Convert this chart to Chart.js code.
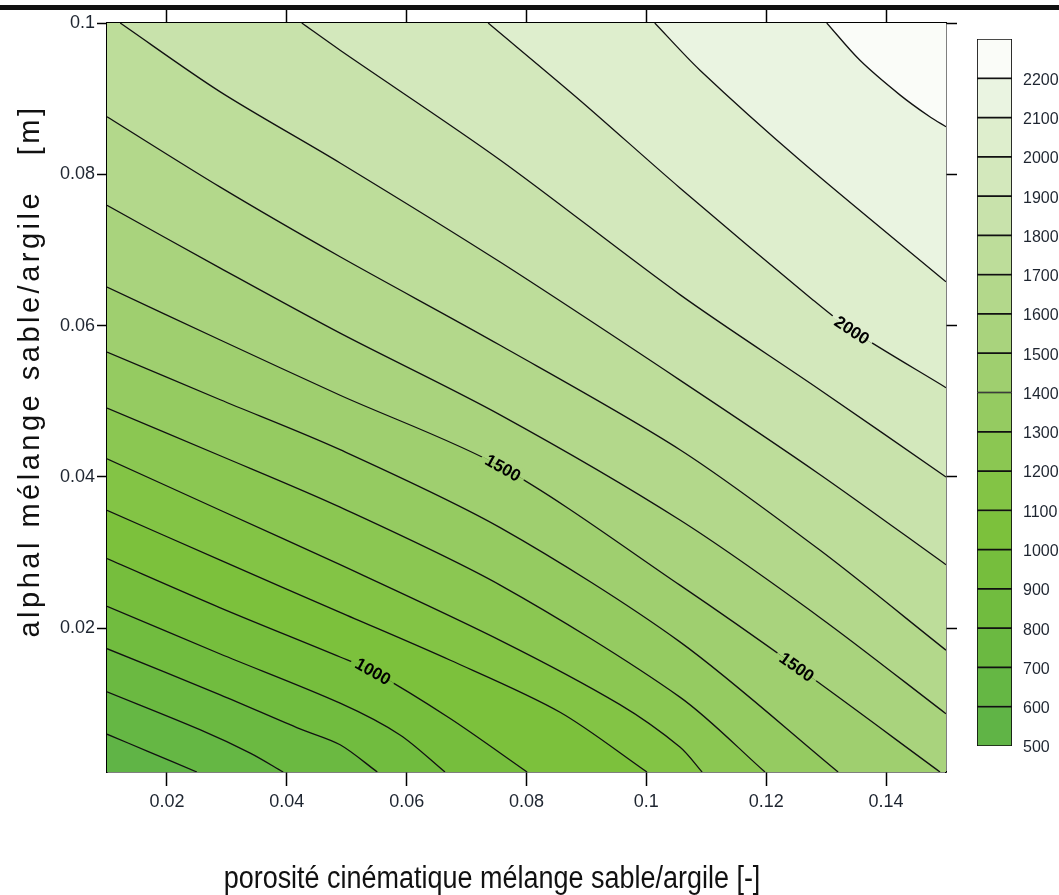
<!DOCTYPE html>
<html>
<head>
<meta charset="utf-8">
<title>Contour alpha / porosité</title>
<script src="https://cdn.jsdelivr.net/npm/chart.js@4.4.1/dist/chart.umd.min.js"></script>
<style>
  html, body { margin: 0; padding: 0; background: #fff; }
  #wrap { position: relative; width: 1059px; height: 895px; overflow: hidden; }
  #contourChart { position: absolute; left: 0; top: 0; }
  #colorbarChart { position: absolute; left: 960px; top: 0; }
</style>
</head>
<body>
<div id="wrap">
  <canvas id="contourChart" width="1059" height="895"></canvas>
  <canvas id="colorbarChart" width="99" height="895"></canvas>
</div>
<script>
// contour levels (band edges) and band colours, low -> high
const levels = [500, 600, 700, 800, 900, 1000, 1100, 1200, 1300, 1400, 1500, 1600, 1700, 1800, 1900, 2000, 2100, 2200, 2300];
const bandColors = [
    '#60b446', '#65b744', '#6bb941', '#71bc3f', '#76be3d', '#7cc13c',
    '#83c445', '#8bc752', '#95cb61', '#9fcf6f', '#a9d37d', '#b3d88b',
    '#bddd9a', '#c8e2ab', '#d3e8bc', '#deeecd', '#eaf4e1', '#fafcf8'
];

const xRange = [0.01, 0.15];
const yRange = [0.001, 0.1];
const xTicks = [0.02, 0.04, 0.06, 0.08, 0.1, 0.12, 0.14];
const xTickLabels = ['0.02', '0.04', '0.06', '0.08', '0.1', '0.12', '0.14'];
const yTicks = [0.02, 0.04, 0.06, 0.08, 0.1];
const yTickLabels = ['0.02', '0.04', '0.06', '0.08', '0.1'];

// iso-lines: [porosité, alpha]
const c600 = [[0.0100, 0.0060], [0.0172, 0.0036], [0.0250, 0.0010]];
const c700 = [[0.0100, 0.0116], [0.0255, 0.0066], [0.0339, 0.0035], [0.0394, 0.0010]];
const c800 = [[0.0100, 0.0173], [0.0289, 0.0112], [0.0422, 0.0067], [0.0489, 0.0046], [0.0551, 0.0010]];
const c900 = [[0.0100, 0.0229], [0.0289, 0.0166], [0.0489, 0.0101], [0.0589, 0.0059], [0.0664, 0.0010]];
const c1000 = [[0.0100, 0.0292], [0.0289, 0.0227], [0.0489, 0.0162], [0.0544, 0.0143], [0.0672, 0.0081], [0.0801, 0.0010]];
const c1100 = [[0.0100, 0.0356], [0.0289, 0.0290], [0.0489, 0.0221], [0.0672, 0.0158], [0.0856, 0.0089], [0.1001, 0.0010]];
const c1200 = [[0.0100, 0.0424], [0.0289, 0.0356], [0.0489, 0.0284], [0.0756, 0.0184], [0.0956, 0.0099], [0.1056, 0.0043], [0.1093, 0.0010]];
const c1300 = [[0.0100, 0.0491], [0.0289, 0.0428], [0.0489, 0.0360], [0.0756, 0.0257], [0.1056, 0.0109], [0.1198, 0.0010]];
const c1400 = [[0.0100, 0.0565], [0.0289, 0.0502], [0.0489, 0.0436], [0.0756, 0.0333], [0.1056, 0.0182], [0.1320, 0.0010]];
const c1500 = [[0.0100, 0.0651], [0.0289, 0.0581], [0.0489, 0.0508], [0.0761, 0.0412], [0.1056, 0.0257], [0.1251, 0.0149], [0.1490, 0.0010]];
const c1600 = [[0.0100, 0.0759], [0.0289, 0.0676], [0.0489, 0.0590], [0.0756, 0.0482], [0.1056, 0.0343], [0.1290, 0.0214], [0.1500, 0.0087]];
const c1700 = [[0.0100, 0.0876], [0.0289, 0.0783], [0.0489, 0.0691], [0.0756, 0.0574], [0.1056, 0.0436], [0.1290, 0.0303], [0.1500, 0.0171]];
const c1800 = [[0.0122, 0.1000], [0.0289, 0.0909], [0.0489, 0.0815], [0.0756, 0.0684], [0.1056, 0.0528], [0.1290, 0.0403], [0.1500, 0.0284]];
const c1900 = [[0.0425, 0.1000], [0.0489, 0.0964], [0.0756, 0.0819], [0.1056, 0.0641], [0.1290, 0.0515], [0.1500, 0.0400]];
const c2000 = [[0.0736, 0.1000], [0.0889, 0.0898], [0.1056, 0.0782], [0.1278, 0.0634], [0.1343, 0.0594], [0.1500, 0.0518]];
const c2100 = [[0.1014, 0.1000], [0.1089, 0.0938], [0.1256, 0.0819], [0.1500, 0.0658]];
const c2200 = [[0.1301, 0.1000], [0.1356, 0.0951], [0.1423, 0.0905], [0.1473, 0.0876], [0.1500, 0.0863]];

const contourLines = [
    {level: 600, pts: c600}, {level: 700, pts: c700}, {level: 800, pts: c800},
    {level: 900, pts: c900}, {level: 1000, pts: c1000}, {level: 1100, pts: c1100},
    {level: 1200, pts: c1200}, {level: 1300, pts: c1300}, {level: 1400, pts: c1400},
    {level: 1500, pts: c1500}, {level: 1600, pts: c1600}, {level: 1700, pts: c1700},
    {level: 1800, pts: c1800}, {level: 1900, pts: c1900}, {level: 2000, pts: c2000},
    {level: 2100, pts: c2100}, {level: 2200, pts: c2200}
];

// inline labels on the iso-lines (level, porosité where the label sits)
const contourLabels = [
    {level: 1000, x: 0.0544},
    {level: 1500, x: 0.0761},
    {level: 1500, x: 0.1251},
    {level: 2000, x: 0.1343}
];

const sansFont = "'Liberation Sans', Arial, sans-serif";
const tickColor = '#1e2530';
const lineTension = 0.3;

// region where value >= level: iso-line closed along the upper-right border.
// end points and corners are doubled so the spline keeps sharp corners
// and follows exactly the same curve as the iso-line itself
function regionAbove(pts) {
    const poly = [];
    const first = pts[0];
    const last = pts[pts.length - 1];
    poly.push({x: first[0], y: first[1]});
    pts.forEach(p => poly.push({x: p[0], y: p[1]}));
    poly.push({x: last[0], y: last[1]});
    const corners = [];
    if (last[1] <= yRange[0]) corners.push([xRange[1], yRange[0]]);
    corners.push([xRange[1], yRange[1]]);
    if (first[0] <= xRange[0]) corners.push([xRange[0], yRange[1]]);
    corners.forEach(c => {
        poly.push({x: c[0], y: c[1]});
        poly.push({x: c[0], y: c[1]});
    });
    return poly;
}

let datasets = [];
contourLines.forEach((c, k) => {
    datasets.push({
        data: regionAbove(c.pts),
        backgroundColor: bandColors[levels.indexOf(c.level)],
        borderColor: 'rgba(0,0,0,0)',
        borderWidth: 0,
        fill: 'shape',
        pointRadius: 0,
        tension: lineTension,
        order: 100 - k,
        xAxisID: 'x',
        yAxisID: 'y'
    });
});
contourLines.forEach(c => {
    datasets.push({
        data: c.pts.map(p => ({x: p[0], y: p[1]})),
        borderColor: '#111',
        borderWidth: 1.3,
        fill: false,
        pointRadius: 0,
        tension: lineTension,
        order: 0,
        xAxisID: 'x',
        yAxisID: 'y'
    });
});

const backgroundPlugin = {
    id: 'lowestBand',
    beforeDatasetsDraw(chart) {
        const a = chart.chartArea;
        const ctx = chart.ctx;
        ctx.save();
        ctx.fillStyle = bandColors[0];
        ctx.fillRect(a.left, a.top, a.right - a.left, a.bottom - a.top);
        ctx.restore();
    }
};

const labelPlugin = {
    id: 'contourLabels',
    afterDatasetsDraw(chart) {
        const ctx = chart.ctx;
        const sx = chart.scales.x;
        const sy = chart.scales.y;
        contourLabels.forEach(lab => {
            const line = contourLines.find(c => c.level === lab.level).pts;
            let k = 0;
            while (k < line.length - 2 && line[k + 1][0] < lab.x) k++;
            const p0 = line[k];
            const p1 = line[k + 1];
            const t = (lab.x - p0[0]) / (p1[0] - p0[0]);
            const yv = p0[1] + t * (p1[1] - p0[1]);
            const px = sx.getPixelForValue(lab.x);
            const py = sy.getPixelForValue(yv);
            // direction from the neighbouring points of the line
            const a = line[Math.max(k, 0)];
            const b = line[Math.min(k + 2, line.length - 1)];
            const ang = Math.atan2(sy.getPixelForValue(b[1]) - sy.getPixelForValue(a[1]),
                sx.getPixelForValue(b[0]) - sx.getPixelForValue(a[0]));
            const i = levels.indexOf(lab.level);
            ctx.save();
            ctx.translate(px, py);
            ctx.rotate(ang);
            ctx.font = "bold 17px " + sansFont;
            const txt = String(lab.level);
            const w = ctx.measureText(txt).width + 10;
            ctx.fillStyle = bandColors[i];
            ctx.fillRect(-w / 2, -9, w, 9);
            ctx.fillStyle = bandColors[i - 1];
            ctx.fillRect(-w / 2, 0, w, 9);
            ctx.fillStyle = '#000';
            ctx.textAlign = 'center';
            ctx.textBaseline = 'middle';
            ctx.fillText(txt, 0, 1);
            ctx.restore();
        });
    }
};

const titlesPlugin = {
    id: 'axisTitles',
    afterDraw(chart) {
        const ctx = chart.ctx;
        ctx.save();
        // page rule above the figure
        ctx.fillStyle = '#111';
        ctx.fillRect(0, 5, chart.width, 5);
        ctx.textAlign = 'center';
        ctx.textBaseline = 'middle';
        // narrow lettering of the original, squeezed horizontally
        ctx.save();
        ctx.translate(492, 879);
        ctx.scale(0.87, 1);
        ctx.font = "31px " + sansFont;
        ctx.fillText('porosité cinématique mélange sable/argile [-]', 0, 0);
        ctx.restore();
        ctx.translate(31, 371);
        ctx.rotate(-Math.PI / 2);
        ctx.font = "29px " + sansFont;
        ctx.letterSpacing = '3.5px';
        ctx.fillText('alphal mélange sable/argile   [m]', 0, 0);
        ctx.restore();
    }
};

function setTicks(values) {
    return function (scale) {
        scale.ticks = values.map(v => ({value: v}));
    };
}

const axisBorder = {display: true, color: '#000', width: 1.5};

new Chart(document.getElementById('contourChart'), {
    type: 'line',
    data: {datasets: datasets},
    options: {
        responsive: false,
        animation: false,
        events: [],
        layout: {padding: {left: 0, right: 101, top: 0, bottom: 0}},
        elements: {point: {radius: 0}},
        plugins: {legend: {display: false}, tooltip: {enabled: false}},
        scales: {
            x: {
                type: 'linear', position: 'bottom',
                min: xRange[0], max: xRange[1],
                afterBuildTicks: setTicks(xTicks),
                ticks: {
                    callback: (v, i) => xTickLabels[i],
                    font: {family: sansFont, size: 18},
                    color: tickColor, padding: 5, maxRotation: 0, autoSkip: false
                },
                grid: {drawOnChartArea: false, tickLength: 14, color: '#000', tickWidth: 1.5},
                border: axisBorder,
                afterFit: s => { s.height = 123; }
            },
            xTop: {
                type: 'linear', position: 'top',
                min: xRange[0], max: xRange[1],
                afterBuildTicks: setTicks(xTicks),
                ticks: {display: false},
                grid: {drawOnChartArea: false, tickLength: 13, color: '#000', tickWidth: 1.5},
                border: axisBorder,
                afterFit: s => { s.height = 23; }
            },
            y: {
                type: 'linear', position: 'left',
                min: yRange[0], max: yRange[1],
                afterBuildTicks: setTicks(yTicks),
                ticks: {
                    callback: (v, i) => yTickLabels[i],
                    font: {family: sansFont, size: 18},
                    color: tickColor, padding: 2
                },
                grid: {drawOnChartArea: false, tickLength: 10, color: '#000', tickWidth: 1.5},
                border: axisBorder,
                afterFit: s => { s.width = 107; }
            },
            yRight: {
                type: 'linear', position: 'right',
                min: yRange[0], max: yRange[1],
                afterBuildTicks: setTicks(yTicks),
                ticks: {display: false},
                grid: {drawOnChartArea: false, tickLength: 11, color: '#000', tickWidth: 1.5},
                border: axisBorder,
                afterFit: s => { s.width = 12; }
            }
        }
    },
    plugins: [backgroundPlugin, labelPlugin, titlesPlugin]
});

// colour bar: one floating bar per band on a value axis
new Chart(document.getElementById('colorbarChart'), {
    type: 'bar',
    data: {
        labels: [''],
        datasets: bandColors.map((c, i) => ({
            data: [[levels[i], levels[i + 1]]],
            backgroundColor: c,
            borderColor: '#111',
            borderWidth: 1.2,
            borderSkipped: false,
            barPercentage: 1,
            categoryPercentage: 1
        }))
    },
    options: {
        responsive: false,
        animation: false,
        events: [],
        layout: {padding: {left: 17, top: 39, bottom: 149, right: 0}},
        plugins: {legend: {display: false}, tooltip: {enabled: false}},
        scales: {
            x: {stacked: true, display: false},
            y: {
                position: 'right',
                min: levels[0], max: levels[levels.length - 1],
                afterBuildTicks: setTicks(levels.slice(0, -1)),
                ticks: {
                    callback: v => String(v),
                    font: {family: sansFont, size: 16},
                    color: tickColor, padding: 3, labelOffset: 2
                },
                grid: {display: false},
                border: {display: false},
                afterFit: s => { s.width = 47; }
            }
        }
    }
});
</script>
</body>
</html>
